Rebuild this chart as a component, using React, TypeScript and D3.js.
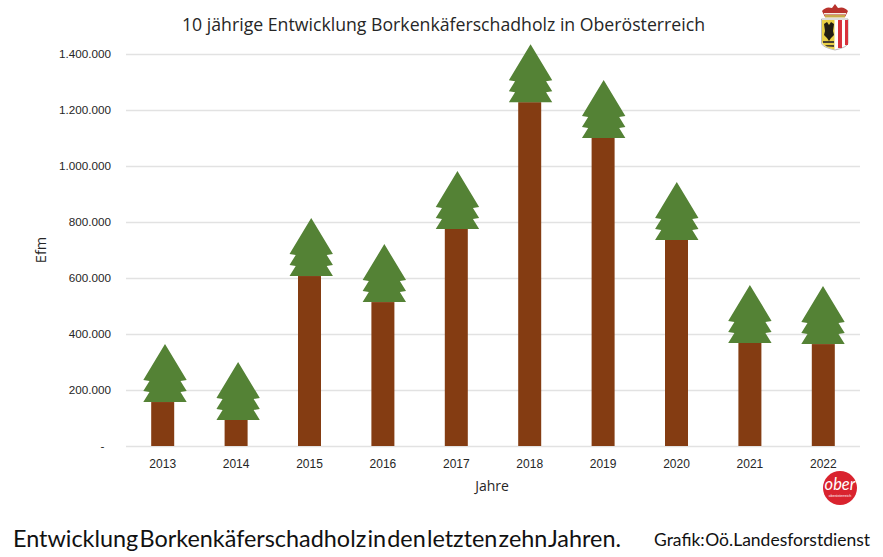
import { useEffect, useRef } from 'react';
import * as d3 from 'd3';

const WIDTH = 883;
const HEIGHT = 557;

const YEARS = ['2013', '2014', '2015', '2016', '2017', '2018', '2019', '2020', '2021', '2022'];
const VOLUME = [157000, 93000, 607000, 514000, 775000, 1228000, 1100000, 736000, 368000, 364000];
const Y_TICKS = [0, 200000, 400000, 600000, 800000, 1000000, 1200000, 1400000];

const TITLE = '10 jährige Entwicklung Borkenkäferschadholz in Oberösterreich';
const CAPTION = 'Entwicklung Borkenkäferschadholz in den letzten zehn Jahren.';
const CREDIT = 'Grafik: Oö.Landesforstdienst';

const BAR_COLOR = '#843c12';
const TREE_COLOR = '#548235';
const GRID_COLOR = '#e2e2e2';
const TEXT_COLOR = '#262626';
const FONT = '"Liberation Sans", Arial, sans-serif';

// tree glyph, drawn upwards from the top of the bar
const TREE_OUTLINE: [number, number][] = [
  [0, -58], [21.7, -22], [15.5, -21], [21.7, -11], [15.5, -10], [21.7, 0],
  [-21.7, 0], [-15.5, -10], [-21.7, -11], [-15.5, -21], [-21.7, -22],
];

function App() {
  const svgRef = useRef<SVGSVGElement>(null);

  useEffect(() => {
    if (!svgRef.current) return;
    const svg = d3.select(svgRef.current);
    svg.selectAll('*').remove();

    const x = d3.scaleBand().domain(YEARS).range([126, 860]);
    const y = d3.scaleLinear().domain([0, 1400000]).range([446, 54]);
    // the tree pictures sit a little off the bars in the original
    const treeX = d3.scaleLinear().domain([0, YEARS.length - 1]).range([165, 823]);
    const barW = 23;

    const fmt = (v: number) => (v === 0 ? '-\u00a0\u00a0' : d3.format(',')(v).replace(/,/g, '.'));

    // Grid + y labels
    svg.append('g').attr('transform', 'translate(126,0)')
      .call(d3.axisLeft(y).tickValues(Y_TICKS).tickSize(-734).tickPadding(15).tickFormat(d => fmt(+d)))
      .call(s => s.select('.domain').remove())
      .call(s => s.selectAll('line').attr('stroke', GRID_COLOR).attr('stroke-width', 1.4))
      .call(s => s.selectAll('text').attr('fill', TEXT_COLOR).attr('font-size', 11.7).attr('font-family', FONT));

    // x labels
    svg.append('g').attr('transform', 'translate(0,446)')
      .call(d3.axisBottom(x).tickSize(0).tickPadding(13))
      .call(s => s.select('.domain').remove())
      .call(s => s.selectAll('text').attr('fill', TEXT_COLOR).attr('font-size', 12).attr('font-family', FONT));

    // Bars
    svg.append('g').selectAll('rect').data(YEARS).join('rect')
      .attr('x', d => x(d)! + x.bandwidth() / 2 - barW / 2)
      .attr('y', (_, i) => y(VOLUME[i]))
      .attr('width', barW)
      .attr('height', (_, i) => y(0) - y(VOLUME[i]))
      .attr('fill', BAR_COLOR);

    // Trees
    const outline = d3.line().curve(d3.curveLinearClosed);
    svg.append('g').selectAll('path').data(YEARS).join('path')
      .attr('transform', (_, i) => `translate(${treeX(i)},${y(VOLUME[i])})`)
      .attr('d', outline(TREE_OUTLINE))
      .attr('fill', TREE_COLOR);

    // Labels
    svg.append('text').attr('x', 443.5).attr('y', 31).attr('text-anchor', 'middle')
      .attr('font-family', '"Open Sans", sans-serif').attr('font-size', 17.7).attr('fill', TEXT_COLOR)
      .text(TITLE);
    svg.append('text').attr('transform', 'translate(46,250) rotate(-90)').attr('text-anchor', 'middle')
      .attr('font-family', '"Open Sans", sans-serif').attr('font-size', 14.5).attr('fill', TEXT_COLOR)
      .text('Efm');
    svg.append('text').attr('x', 492).attr('y', 491).attr('text-anchor', 'middle')
      .attr('font-family', '"Open Sans", sans-serif').attr('font-size', 14).attr('fill', TEXT_COLOR)
      .text('Jahre');
    svg.append('text').attr('x', 13).attr('y', 547)
      .attr('font-family', 'Lato, sans-serif').attr('font-size', 23.4).attr('word-spacing', -4.8)
      .attr('fill', '#111').text(CAPTION);
    svg.append('text').attr('x', 654).attr('y', 546)
      .attr('font-family', 'Lato, sans-serif').attr('font-size', 17.5).attr('word-spacing', -4)
      .attr('fill', '#111').text(CREDIT);

    // Coat of arms
    const arms = svg.append('g');
    arms.append('path').attr('d', 'M822 11 Q826 6 832 8 L835 4 L838 8 Q844 6 848 11 L845 17 L825 17 Z').attr('fill', '#b8322c');
    arms.append('rect').attr('x', 824).attr('y', 13).attr('width', 22).attr('height', 1.5).attr('fill', '#f2efe0');
    arms.append('rect').attr('x', 825).attr('y', 15).attr('width', 20).attr('height', 2.5).attr('fill', '#c9a94a');
    arms.append('path').attr('d', 'M821.5 19 L848 19 L848 43 Q848 47 835 50 Q821.5 47 821.5 43 Z').attr('fill', '#fff').attr('stroke', '#777').attr('stroke-width', 0.5);
    arms.append('path').attr('d', 'M822 20 L834.5 20 L834.5 49.5 Q822 46.5 822 42 Z').attr('fill', '#e9cf45');
    arms.append('path').attr('d', 'M824 24 L827 22 L829 25 L831 22 L834 24 L833 31 L834 35 L831 38 L829 41 L827 38 L824 35 L825 31 Z').attr('fill', '#211d14');
    arms.append('path').attr('d', 'M823 41 L834 41 L834 43 L823 43 Z M825 45 L834 45 L834 47 L827 46.5 Z').attr('fill', '#4a4234');
    arms.append('rect').attr('x', 838).attr('y', 20).attr('width', 4).attr('height', 28).attr('fill', '#d8323c');
    arms.append('rect').attr('x', 845).attr('y', 20).attr('width', 3).attr('height', 25).attr('fill', '#d8323c');

    // ober logo
    const logo = svg.append('g');
    logo.append('circle').attr('cx', 840).attr('cy', 488).attr('r', 17).attr('fill', '#d9232e');
    logo.append('text').attr('x', 840).attr('y', 490).attr('text-anchor', 'middle')
      .attr('font-family', 'Lato, sans-serif').attr('font-style', 'italic').attr('font-size', 16.5)
      .attr('fill', '#fff').text('ober');
    logo.append('text').attr('x', 840).attr('y', 497).attr('text-anchor', 'middle')
      .attr('font-family', FONT).attr('font-size', 3.5).attr('fill', '#fff').text('oberösterreich');
  }, []);

  return (
    <svg
      ref={svgRef}
      width={WIDTH}
      height={HEIGHT}
      style={{ position: 'absolute', left: 0, top: 0, background: '#fff' }}
    />
  );
}

export default App;
